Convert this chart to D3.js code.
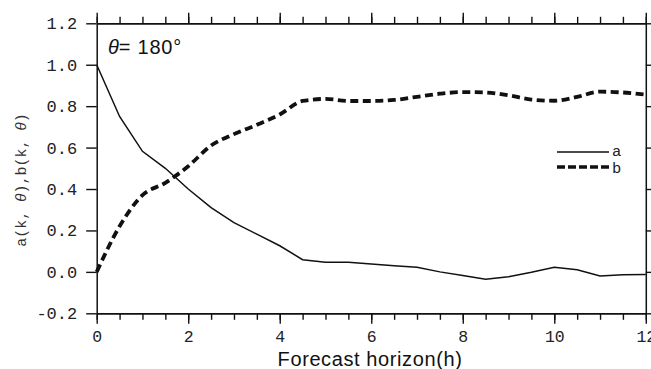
<!DOCTYPE html>
<html>
<head>
<meta charset="utf-8">
<script src="https://cdn.jsdelivr.net/npm/d3@7"></script>
<style>
  html, body { margin: 0; padding: 0; background: #fff; }
  svg { display: block; }
</style>
</head>
<body>
<div id="chart"></div>
<script>
// ---- data ----
const horizon = [0, 0.5, 1, 1.5, 2, 2.5, 3, 3.5, 4, 4.5, 5, 5.5, 6, 6.5, 7, 7.5, 8, 8.5, 9, 9.5, 10, 10.5, 11, 11.5, 12];
const seriesA = [1.0, 0.75, 0.582, 0.50, 0.40, 0.31, 0.238, 0.182, 0.126, 0.059, 0.046, 0.046, 0.038, 0.030, 0.022, 0.000, -0.018, -0.035, -0.023, -0.002, 0.022, 0.010, -0.020, -0.014, -0.013];
const seriesB = [0.0, 0.22, 0.37, 0.43, 0.51, 0.61, 0.665, 0.71, 0.76, 0.825, 0.835, 0.825, 0.825, 0.83, 0.845, 0.86, 0.868, 0.866, 0.852, 0.832, 0.826, 0.845, 0.870, 0.866, 0.856];
const xTicks = [0, 2, 4, 6, 8, 10, 12];
const xTickLabels = ["0", "2", "4", "6", "8", "10", "12"];
const xMinorTicks = [0,0.5,1,1.5,2,2.5,3,3.5,4,4.5,5,5.5,6,6.5,7,7.5,8,8.5,9,9.5,10,10.5,11,11.5,12];
const yTicks = [-0.2, 0.0, 0.2, 0.4, 0.6, 0.8, 1.0, 1.2];
const yTickLabels = ["-0.2", "0.0", "0.2", "0.4", "0.6", "0.8", "1.0", "1.2"];
const legendLabels = ["a", "b"];

// ---- layout ----
const W = 651, H = 369;
const m = { left: 96.7, top: 23.3, right: W - 645.8, bottom: H - 313.3 };
const iw = W - m.left - m.right, ih = H - m.top - m.bottom;
const ink = "#111";
const monoFont = "'Liberation Mono', 'Courier New', monospace";
const sansFont = "'Liberation Sans', Arial, sans-serif";

const svg = d3.select("#chart").append("svg").attr("width", W).attr("height", H);
const g = svg.append("g").attr("transform", `translate(${m.left},${m.top})`);

const x = d3.scaleLinear().domain([0, 12]).range([0, iw]);
const y = d3.scaleLinear().domain([-0.2, 1.2]).range([ih, 0]);

function styleAxis(sel) {
  sel.select(".domain").attr("stroke", ink).attr("stroke-width", 1.5);
  sel.selectAll(".tick line").attr("stroke", ink).attr("stroke-width", 1.4);
  sel.selectAll(".tick text").attr("fill", "#222").attr("font-family", monoFont).attr("font-size", 17);
}

// minor x ticks (bottom & top)
g.append("g").attr("transform", `translate(0,${ih})`)
  .call(d3.axisBottom(x).tickValues(xMinorTicks).tickSizeInner(6.5).tickSizeOuter(0).tickFormat(""))
  .call(styleAxis);
g.append("g")
  .call(d3.axisTop(x).tickValues(xMinorTicks).tickSizeInner(6.5).tickSizeOuter(0).tickFormat(""))
  .call(styleAxis);

// major x ticks
const xb = g.append("g").attr("transform", `translate(0,${ih})`)
  .call(d3.axisBottom(x).tickValues(xTicks).tickSizeInner(10.5).tickSizeOuter(0).tickPadding(4).tickFormat((d, i) => xTickLabels[i]))
  .call(styleAxis);
xb.selectAll(".tick text").attr("dy", "0.85em").attr("font-size", 16.5);
g.append("g")
  .call(d3.axisTop(x).tickValues(xTicks).tickSizeInner(10.5).tickSizeOuter(0).tickFormat(""))
  .call(styleAxis);

// y axes
g.append("g")
  .call(d3.axisLeft(y).tickValues(yTicks).tickSizeInner(10.5).tickSizeOuter(0).tickPadding(9).tickFormat((d, i) => yTickLabels[i]))
  .call(styleAxis);
g.append("g").attr("transform", `translate(${iw},0)`)
  .call(d3.axisRight(y).tickValues(yTicks).tickSizeInner(10.5).tickSizeOuter(0).tickFormat(""))
  .call(styleAxis);

// lines
const lineA = d3.line().x((d, i) => x(horizon[i])).y(d => y(d));
const lineB = d3.line().curve(d3.curveMonotoneX).x((d, i) => x(horizon[i])).y(d => y(d));

g.append("path").attr("d", lineA(seriesA))
  .attr("fill", "none").attr("stroke", ink).attr("stroke-width", 1.5);
g.append("path").attr("d", lineB(seriesB))
  .attr("fill", "none").attr("stroke", ink).attr("stroke-width", 3.8)
  .attr("stroke-dasharray", "8,4.5");

// legend
const leg = svg.append("g");
leg.append("line").attr("x1", 557).attr("x2", 609).attr("y1", 152).attr("y2", 152)
  .attr("stroke", ink).attr("stroke-width", 1.4);
leg.append("line").attr("x1", 557).attr("x2", 609).attr("y1", 167).attr("y2", 167)
  .attr("stroke", ink).attr("stroke-width", 3.6).attr("stroke-dasharray", "8,3");
leg.append("text").attr("x", 612).attr("y", 156).text(legendLabels[0])
  .attr("font-family", monoFont).attr("font-size", 15.5).attr("fill", "#222");
leg.append("text").attr("x", 612).attr("y", 172.5).text(legendLabels[1])
  .attr("font-family", monoFont).attr("font-size", 15.5).attr("fill", "#222");

// annotation
const ann = svg.append("text").attr("x", 108).attr("y", 54)
  .attr("font-family", sansFont).attr("font-size", 20).attr("fill", "#111")
  .attr("letter-spacing", 0.8);
ann.append("tspan").attr("font-style", "italic").text("θ");
ann.append("tspan").attr("dx", -1).text("= 180°");

// axis titles
svg.append("text").attr("x", 370).attr("y", 366).attr("text-anchor", "middle")
  .attr("font-family", sansFont).attr("font-size", 20).attr("letter-spacing", 0.6).attr("fill", "#111")
  .text("Forecast horizon(h)");

const yt = svg.append("text").attr("transform", "translate(26,180) rotate(-90)")
  .attr("text-anchor", "middle").attr("font-family", monoFont).attr("font-size", 15).attr("fill", "#333");
yt.append("tspan").text("a(k, ");
yt.append("tspan").attr("font-family", sansFont).attr("font-style", "italic").text("θ");
yt.append("tspan").text("),b(k, ");
yt.append("tspan").attr("font-family", sansFont).attr("font-style", "italic").text("θ");
yt.append("tspan").text(")");
</script>
</body>
</html>
